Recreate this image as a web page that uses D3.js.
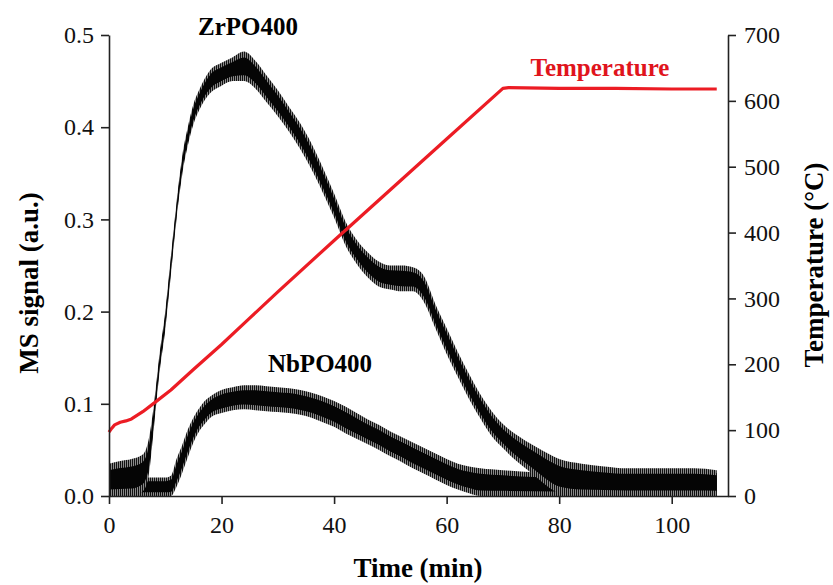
<!DOCTYPE html>
<html><head><meta charset="utf-8">
<script src="https://cdn.jsdelivr.net/npm/d3@7"></script>
<style>body{margin:0;background:#fff}svg{display:block}</style>
</head><body><svg id="c" width="833" height="585"></svg>
<script>
// Time axis (min)
const xTicks = [0, 20, 40, 60, 80, 100];
const yLeftTicks = [0, 0.1, 0.2, 0.3, 0.4, 0.5];
const yRightTicks = [0, 100, 200, 300, 400, 500, 600, 700];

// ZrPO400 MS signal: time, lower and upper envelope of noisy trace
const zrTime = [0,2,4,6,7,8,9,10,11,12,13,14,15,16,18,20,22,24,26,28,30,32,34,36,38,40,42,44,46,48,50,52,54,56,58,60,62,64,66,68,70,72,74,76,78,80,84,88,92,96,100,104,108];
const zrLow  = [0,0,0,0.005,0.02,0.075,0.135,0.18,0.24,0.3,0.348,0.38,0.403,0.418,0.437,0.445,0.45,0.45,0.442,0.427,0.412,0.395,0.376,0.354,0.329,0.302,0.272,0.252,0.237,0.227,0.224,0.222,0.222,0.21,0.182,0.154,0.129,0.105,0.084,0.065,0.052,0.04,0.03,0.02,0.01,0.003,0,0,0,0,0,0,0];
const zrHigh = [0.035,0.038,0.04,0.045,0.06,0.1,0.155,0.2,0.26,0.318,0.368,0.4,0.425,0.44,0.462,0.47,0.476,0.482,0.472,0.456,0.44,0.422,0.404,0.382,0.356,0.328,0.298,0.278,0.264,0.254,0.25,0.25,0.248,0.238,0.208,0.182,0.156,0.132,0.11,0.092,0.078,0.068,0.06,0.053,0.046,0.04,0.035,0.032,0.03,0.03,0.03,0.03,0.028];

// NbPO400 MS signal
const nbTime = [0,4,8,10,11,12,13,14,15,16,17,18,20,22,24,26,28,30,32,34,36,38,40,42,44,46,48,50,52,54,56,58,60,62,64,66,70,80,90,100,108];
const nbLow  = [0,0,0,0,0,0.01,0.025,0.042,0.058,0.07,0.078,0.085,0.09,0.093,0.094,0.093,0.092,0.091,0.09,0.088,0.085,0.08,0.075,0.068,0.062,0.056,0.05,0.043,0.037,0.03,0.024,0.018,0.012,0.007,0.003,0,0,0,0,0,0];
const nbHigh = [0.02,0.02,0.02,0.02,0.022,0.04,0.055,0.072,0.085,0.095,0.103,0.108,0.115,0.118,0.12,0.12,0.119,0.118,0.117,0.115,0.112,0.108,0.103,0.097,0.09,0.083,0.077,0.07,0.064,0.058,0.052,0.046,0.04,0.035,0.032,0.03,0.028,0.025,0.025,0.025,0.025];

// Temperature (°C)
const tTime = [0,0.5,1,2,3,4,6,8,11,15,20,25,30,40,50,60,70,71,80,90,100,108];
const tVal  = [97,103,108,112,114,117,128,141,161,192,230,270,310,388,465,542,619,620,619,619,618,618];

const svg = d3.select('#c');
const x = d3.scaleLinear().domain([0,110]).range([109,728]);
const yL = d3.scaleLinear().domain([0,0.5]).range([496,35]);
const yR = d3.scaleLinear().domain([0,700]).range([496,35]);

const font = '"Liberation Serif","Times New Roman",serif';
const axisCol = '#222';

const defs = svg.append('defs');
const pat = defs.append('pattern').attr('id','noise').attr('patternUnits','userSpaceOnUse')
  .attr('width',2).attr('height',10);
pat.append('rect').attr('x',0).attr('y',0).attr('width',2).attr('height',10).attr('fill','#8a8a8a');
pat.append('rect').attr('x',0).attr('y',0).attr('width',1).attr('height',10).attr('fill','#111');

function band(t, lo, hi, shrink) {
  return d3.area().x((d,i)=>x(t[i]))
    .y0((d,i)=>yL(lo[i] + shrink*(hi[i]-lo[i])))
    .y1((d,i)=>yL(hi[i] - shrink*(hi[i]-lo[i])))
    .curve(d3.curveMonotoneX)(t);
}
[[nbTime,nbLow,nbHigh],[zrTime,zrLow,zrHigh]].forEach(([t,lo,hi])=>{
  svg.append('path').attr('d', band(t,lo,hi,0)).attr('fill','url(#noise)');
  svg.append('path').attr('d', band(t,lo,hi,0.2)).attr('fill','#050505');
});

svg.append('path')
  .attr('d', d3.line().x((d,i)=>x(tTime[i])).y((d,i)=>yR(tVal[i])).curve(d3.curveLinear)(tTime))
  .attr('fill','none').attr('stroke','#ec1c24').attr('stroke-width',3.2).attr('stroke-linejoin','round');

// axes
const gx = svg.append('g').attr('transform','translate(0,496)')
  .call(d3.axisBottom(x).tickValues(xTicks).tickSize(8).tickSizeOuter(0).tickPadding(6));
const gl = svg.append('g').attr('transform','translate(109,0)')
  .call(d3.axisLeft(yL).tickValues(yLeftTicks).tickFormat(d3.format('.1f')).tickSize(8).tickSizeOuter(0).tickPadding(7));
const gr = svg.append('g').attr('transform','translate(728,0)')
  .call(d3.axisRight(yR).tickValues(yRightTicks).tickSize(8).tickSizeOuter(0).tickPadding(8));
[gx,gl,gr].forEach(g=>{
  g.attr('font-family', null);
  g.select('.domain').attr('stroke',axisCol).attr('stroke-width',1.6);
  g.selectAll('.tick line').attr('stroke',axisCol).attr('stroke-width',1.6);
  g.selectAll('.tick text').style('font-family',font).style('font-size','24px').attr('fill','#111');
});
gx.selectAll('.tick text').attr('dy','0.95em');

// titles
function title(sel){ return sel.style('font-family',font).style('font-weight','bold'); }
title(svg.append('text').attr('x',418).attr('y',577).attr('text-anchor','middle'))
  .style('font-size','27px').text('Time (min)');
title(svg.append('text').attr('transform','translate(38,283) rotate(-90)').attr('text-anchor','middle'))
  .style('font-size','27px').text('MS signal (a.u.)');
title(svg.append('text').attr('transform','translate(823,265) rotate(-90)').attr('text-anchor','middle'))
  .style('font-size','27px').text('Temperature (°C)');

title(svg.append('text').attr('x',248).attr('y',35).attr('text-anchor','middle'))
  .style('font-size','25px').text('ZrPO400');
title(svg.append('text').attr('x',320).attr('y',372).attr('text-anchor','middle'))
  .style('font-size','25px').text('NbPO400');
title(svg.append('text').attr('x',600).attr('y',76).attr('text-anchor','middle'))
  .style('font-size','25px').attr('fill','#e0141c').text('Temperature');
</script></body></html>
